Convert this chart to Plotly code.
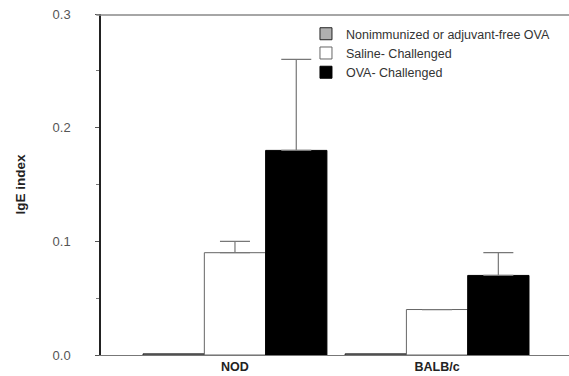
import plotly.graph_objects as go

# 数据
groups = ["NOD", "BALB/c"]
series_names = ["Nonimmunized or adjuvant-free OVA", "Saline- Challenged", "OVA- Challenged"]
nonimmunized = [0.001, 0.001]
saline = [0.09, 0.04]
ova = [0.18, 0.07]
saline_err = [0.01, 0.0]
ova_err = [0.08, 0.02]

fills = ["#b0b0b0", "#ffffff", "#000000"]
outlines = ["#222222", "#666666", "#000000"]
values = [nonimmunized, saline, ova]
errors = [None, saline_err, ova_err]

fig = go.Figure()
for name, vals, err, fc, lc in zip(series_names, values, errors, fills, outlines):
    bar = go.Bar(
        x=[0, 1], y=vals, name=name,
        marker=dict(color=fc, line=dict(color=lc, width=1)),
    )
    if err is not None:
        bar.error_y = dict(type="data", array=err, arrayminus=[0, 0], symmetric=False,
                           color="#777777", thickness=1.2, width=15,
                           visible=True)
    fig.add_trace(bar)

fig.update_layout(
    width=569, height=376,
    margin=dict(l=101, r=0, t=14, b=21),
    plot_bgcolor="white", paper_bgcolor="white",
    barmode="group", bargap=0.09, bargroupgap=0,
    font=dict(family="Liberation Sans, Arial", size=12, color="#333333"),
    legend=dict(x=0.438, y=0.985, xanchor="left", yanchor="top",
                bgcolor="rgba(0,0,0,0)", font=dict(size=12.5, color="#333333"),
                itemwidth=30, tracegroupgap=0),
)

fig.update_xaxes(
    range=[-0.663, 1.653], tickvals=[0, 1], ticktext=["<b>NOD</b>", "<b>BALB/c</b>"],
    showline=True, linecolor="#777777", linewidth=1.2,
    ticks="", showgrid=False, zeroline=False, automargin=False,
    tickfont=dict(size=12.5, color="#222222"),
)

fig.update_yaxes(
    range=[0, 0.3], tickvals=[0, 0.1, 0.2, 0.3], ticktext=["0.0", "0.1", "0.2", "0.3"],
    showline=True, linecolor="#222222", linewidth=1.5,
    ticks="outside", ticklen=4, tickcolor="#555555", ticklabelstandoff=22,
    ticklabeloverflow="allow", automargin=False,
    minor=dict(tickvals=[0.05, 0.15, 0.25], ticks="outside", ticklen=3, tickcolor="#777777"),
    showgrid=False, zeroline=False,
    tickfont=dict(size=13, color="#555555"),
    title=dict(text="<b>IgE index</b>", font=dict(size=13.5, color="#222222"), standoff=24),
)

# 顶部边框线（稍微放进绘图区内）
fig.add_shape(type="line", xref="paper", yref="paper", x0=-0.01, x1=1, y0=0.997, y1=0.997,
              line=dict(color="#888888", width=1.3), layer="above")

# 去掉 body 默认边距，让图正好占满窗口
fig.write_html("out.html", config={"displayModeBar": False},
               post_script="document.body.style.margin='0';")
